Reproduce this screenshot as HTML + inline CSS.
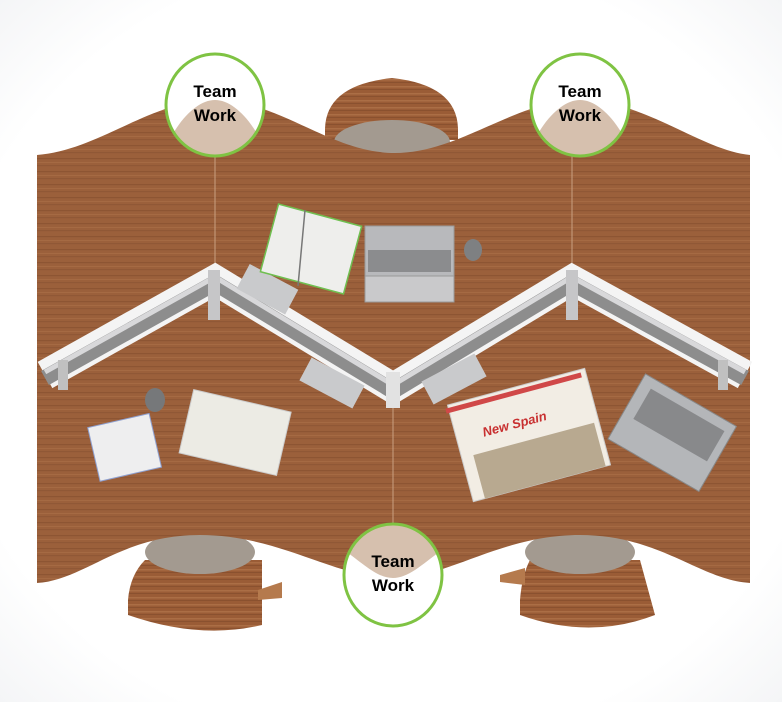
<!DOCTYPE html>
<html><head><meta charset="utf-8"><style>
html,body{margin:0;padding:0;background:#fff;}
svg{display:block}
text{font-family:"Liberation Sans",sans-serif;font-weight:bold;}
</style></head><body>
<svg width="782" height="702" viewBox="0 0 782 702" xmlns="http://www.w3.org/2000/svg">
<defs>
<pattern id="wood" width="20" height="13" patternUnits="userSpaceOnUse">
<rect width="20" height="13" fill="#9b603b"/>
<rect y="2" width="20" height="1.2" fill="#8d5533"/>
<rect y="6" width="20" height="1" fill="#a56a43"/>
<rect y="9" width="20" height="1.2" fill="#905836"/>
</pattern>
<pattern id="wood2" width="20" height="7" patternUnits="userSpaceOnUse">
<rect width="20" height="7" fill="#9a5c36"/>
<rect y="2" width="20" height="1.5" fill="#ab6e45"/>
<rect y="5" width="20" height="1" fill="#8a512f"/>
</pattern>
<radialGradient id="bg" cx="0.5" cy="0.5" r="0.75"><stop offset="0.75" stop-color="#fff"/><stop offset="1" stop-color="#f1f2f4"/></radialGradient>
</defs>
<rect width="782" height="702" fill="url(#bg)"/>
<!-- top chair back -->
<path d="M325,130 Q325,85 392,78 Q458,85 458,130 L458,140 L325,140Z" fill="url(#wood2)"/>
<ellipse cx="392" cy="142" rx="58" ry="22" fill="#a39a90"/>
<!-- bottom chairs -->
<g>
<path d="M128,600 Q130,575 145,560 L262,560 L262,625 Q200,640 128,615Z" fill="url(#wood2)"/>
<path d="M258,590 L282,582 L282,598 L258,600Z" fill="#b57a4d"/>
<ellipse cx="200" cy="552" rx="55" ry="22" fill="#a39a90"/>
<path d="M520,600 Q522,575 530,560 L640,560 L655,615 Q590,640 520,615Z" fill="url(#wood2)"/>
<path d="M500,575 L525,568 L525,585 L500,582Z" fill="#b57a4d"/>
<ellipse cx="580" cy="552" rx="55" ry="22" fill="#a39a90"/>
</g>
<!-- desk -->
<path d="M37,155 C100,150 150,100 215,100 C280,100 330,153 395,153 C460,153 515,100 580,100 C645,100 700,150 750,155 L750,583 C700,580 660,535 580,535 C500,535 450,578 393,578 C335,578 280,535 200,535 C120,535 85,580 37,583 Z" fill="url(#wood)"/>
<line x1="215" y1="100" x2="215" y2="278" stroke="#c9a080" stroke-width="1"/>
<line x1="572" y1="100" x2="572" y2="278" stroke="#c9a080" stroke-width="1"/>
<line x1="393" y1="390" x2="393" y2="578" stroke="#c9a080" stroke-width="1"/>
<!-- divider -->
<polyline points="45,375 215,280 393,388 572,280 745,375" fill="none" stroke="#f4f4f4" stroke-width="30" stroke-linejoin="miter"/>
<polyline points="45,378 215,283 393,391 572,283 745,378" fill="none" stroke="#8d8d8d" stroke-width="16"/>
<polyline points="45,372 215,277 393,385 572,277 745,372" fill="none" stroke="#d8d8da" stroke-width="5"/>
<rect x="208" y="270" width="12" height="50" fill="#c6c6c8"/>
<rect x="566" y="270" width="12" height="50" fill="#c6c6c8"/>
<rect x="386" y="372" width="14" height="36" fill="#e2e2e2"/>
<rect x="58" y="360" width="10" height="30" fill="#c0c0c0"/>
<rect x="718" y="360" width="10" height="30" fill="#c0c0c0"/>
<!-- monitor arms -->
<rect x="240" y="275" width="55" height="28" fill="#c9cacc" transform="rotate(28 267 289)"/>
<rect x="302" y="370" width="60" height="26" fill="#c9cacc" transform="rotate(28 332 383)"/>
<rect x="424" y="366" width="60" height="26" fill="#c9cacc" transform="rotate(-28 454 379)"/>
<!-- notebook top -->
<rect x="268" y="214" width="86" height="70" fill="#eeeeec" stroke="#6fbf50" stroke-width="1.5" transform="rotate(15 311 249)"/>
<line x1="305" y1="210" x2="298" y2="286" stroke="#777" stroke-width="1.5"/>
<!-- laptop top -->
<rect x="365" y="226" width="89" height="50" fill="#b8b9bc" stroke="#999"/>
<rect x="365" y="276" width="89" height="26" fill="#c9c9cb" stroke="#999"/>
<rect x="368" y="250" width="83" height="22" fill="#8b8c8e"/>
<ellipse cx="473" cy="250" rx="9" ry="11" fill="#7e8082"/>
<!-- bottom-left items -->
<ellipse cx="155" cy="400" rx="10" ry="12" fill="#76787a"/>
<rect x="93" y="420" width="63" height="55" fill="#eeeeef" stroke="#8fa0d0" transform="rotate(-13 124 447)"/>
<rect x="185" y="400" width="100" height="65" fill="#ecebe4" stroke="#ccc" transform="rotate(13 235 433)"/>
<!-- magazine -->
<rect x="458" y="385" width="142" height="100" fill="#f2ede4" stroke="#ccc" transform="rotate(-15 529 435)"/>
<rect x="470" y="440" width="125" height="45" fill="#b8a990" transform="rotate(-15 529 435)"/>
<rect x="455" y="388" width="140" height="5" fill="#d04848" transform="rotate(-15 529 435)"/>
<text x="485" y="425" font-size="13" fill="#c83030" font-style="italic" transform="rotate(-15 529 435)">New Spain</text>
<!-- laptop bottom right -->
<rect x="620" y="395" width="105" height="75" fill="#b4b6b9" stroke="#888" transform="rotate(30 672 432)"/>
<rect x="632" y="405" width="85" height="35" fill="#88898b" transform="rotate(30 672 432)"/>
<!-- circles -->
<g>
<clipPath id="c1"><ellipse cx="215" cy="105" rx="49" ry="51"/></clipPath>
<ellipse cx="215" cy="105" rx="49" ry="51" fill="#fff"/>
<path d="M150,200 C160,140 190,100 215,100 C240,100 270,140 280,200Z" fill="#d6c0ae" clip-path="url(#c1)"/>
<ellipse cx="215" cy="105" rx="49" ry="51" fill="none" stroke="#7fc343" stroke-width="3"/>
<text x="215" y="97" font-size="17" text-anchor="middle">Team</text>
<text x="215" y="121" font-size="17" text-anchor="middle">Work</text>

<clipPath id="c2"><ellipse cx="580" cy="105" rx="49" ry="51"/></clipPath>
<ellipse cx="580" cy="105" rx="49" ry="51" fill="#fff"/>
<path d="M515,200 C525,140 555,100 580,100 C605,100 635,140 645,200Z" fill="#d6c0ae" clip-path="url(#c2)"/>
<ellipse cx="580" cy="105" rx="49" ry="51" fill="none" stroke="#7fc343" stroke-width="3"/>
<text x="580" y="97" font-size="17" text-anchor="middle">Team</text>
<text x="580" y="121" font-size="17" text-anchor="middle">Work</text>

<clipPath id="c3"><ellipse cx="393" cy="575" rx="49" ry="51"/></clipPath>
<ellipse cx="393" cy="575" rx="49" ry="51" fill="#fff"/>
<path d="M330,540 C360,560 375,578 393,578 C411,578 426,560 456,540 L456,520 L330,520Z" fill="#d6c0ae" clip-path="url(#c3)"/>
<ellipse cx="393" cy="575" rx="49" ry="51" fill="none" stroke="#7fc343" stroke-width="3"/>
<text x="393" y="567" font-size="17" text-anchor="middle">Team</text>
<text x="393" y="591" font-size="17" text-anchor="middle">Work</text>
</g>
</svg>
</body></html>
